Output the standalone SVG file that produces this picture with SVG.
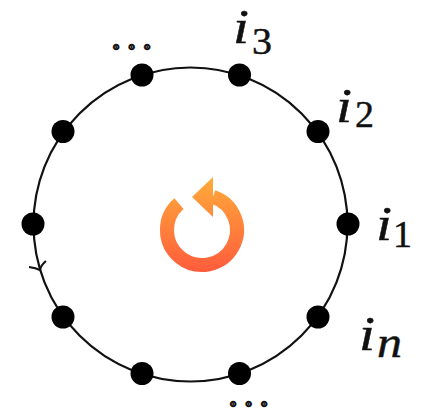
<svg xmlns="http://www.w3.org/2000/svg" width="427" height="410" viewBox="0 0 427 410">
<style>
.n{fill:#000}
.w{fill:none;stroke:#111;stroke-width:2.2}
.t{font-family:"Liberation Serif",serif;fill:#111;stroke:#111;stroke-width:.45}
.i{font-size:48px;font-style:italic}
.s{font-size:38px}
.d{font-size:17px;letter-spacing:11.25px;stroke-width:4.6;stroke-linejoin:round}
</style>
<defs><linearGradient id="g" gradientUnits="userSpaceOnUse" x1="0" y1="177" x2="0" y2="272"><stop offset="0" stop-color="#ffac3a"/><stop offset="1" stop-color="#ff5c3c"/></linearGradient></defs>
<rect width="427" height="410" fill="#fff"/>
<g id="connectors">
<circle class="w" cx="190.5" cy="224.5" r="157"/>
<path class="w" d="M29 267Q36 268 40 270Q41 265 46 261"/>
</g>
<g id="node-1"><circle class="n" cx="348" cy="224" r="11.5"/></g>
<g id="node-2"><circle class="n" cx="318" cy="131.5" r="11.5"/></g>
<g id="node-3"><circle class="n" cx="239.5" cy="75" r="11.5"/></g>
<g id="node-4"><circle class="n" cx="142" cy="75" r="11.5"/></g>
<g id="node-5"><circle class="n" cx="63" cy="131.5" r="11.5"/></g>
<g id="node-6"><circle class="n" cx="33" cy="224" r="11.5"/></g>
<g id="node-7"><circle class="n" cx="63" cy="317" r="11.5"/></g>
<g id="node-8"><circle class="n" cx="142" cy="373.5" r="11.5"/></g>
<g id="node-9"><circle class="n" cx="239.5" cy="373.5" r="11.5"/></g>
<g id="node-10"><circle class="n" cx="318" cy="317" r="11.5"/></g>
<g id="labels">
<text class="t i" x="233" y="43" textLength="16" lengthAdjust="spacingAndGlyphs">i</text><text class="t s" x="252" y="54" textLength="20" lengthAdjust="spacingAndGlyphs">3</text>
<text class="t i" x="336" y="122" textLength="16" lengthAdjust="spacingAndGlyphs">i</text><text class="t s" x="355" y="127" textLength="19" lengthAdjust="spacingAndGlyphs">2</text>
<text class="t i" x="376" y="240" textLength="16" lengthAdjust="spacingAndGlyphs">i</text><text class="t s" x="393" y="247" textLength="19" lengthAdjust="spacingAndGlyphs">1</text>
<text class="t i" x="359" y="350" textLength="16" lengthAdjust="spacingAndGlyphs">i</text><text class="t i" x="377" y="357" textLength="25" lengthAdjust="spacingAndGlyphs" style="font-size:44px">n</text>
<text class="t d" x="114" y="48">...</text>
<text class="t d" x="231" y="405">...</text>
</g>
<g id="icon">
<path d="M179 203.6A35 35 0 1 0 213 196.8" fill="none" stroke="url(#g)" stroke-width="14"/>
<path d="M213 177L192 197L213 217Z" fill="url(#g)"/>
</g>
</svg>
